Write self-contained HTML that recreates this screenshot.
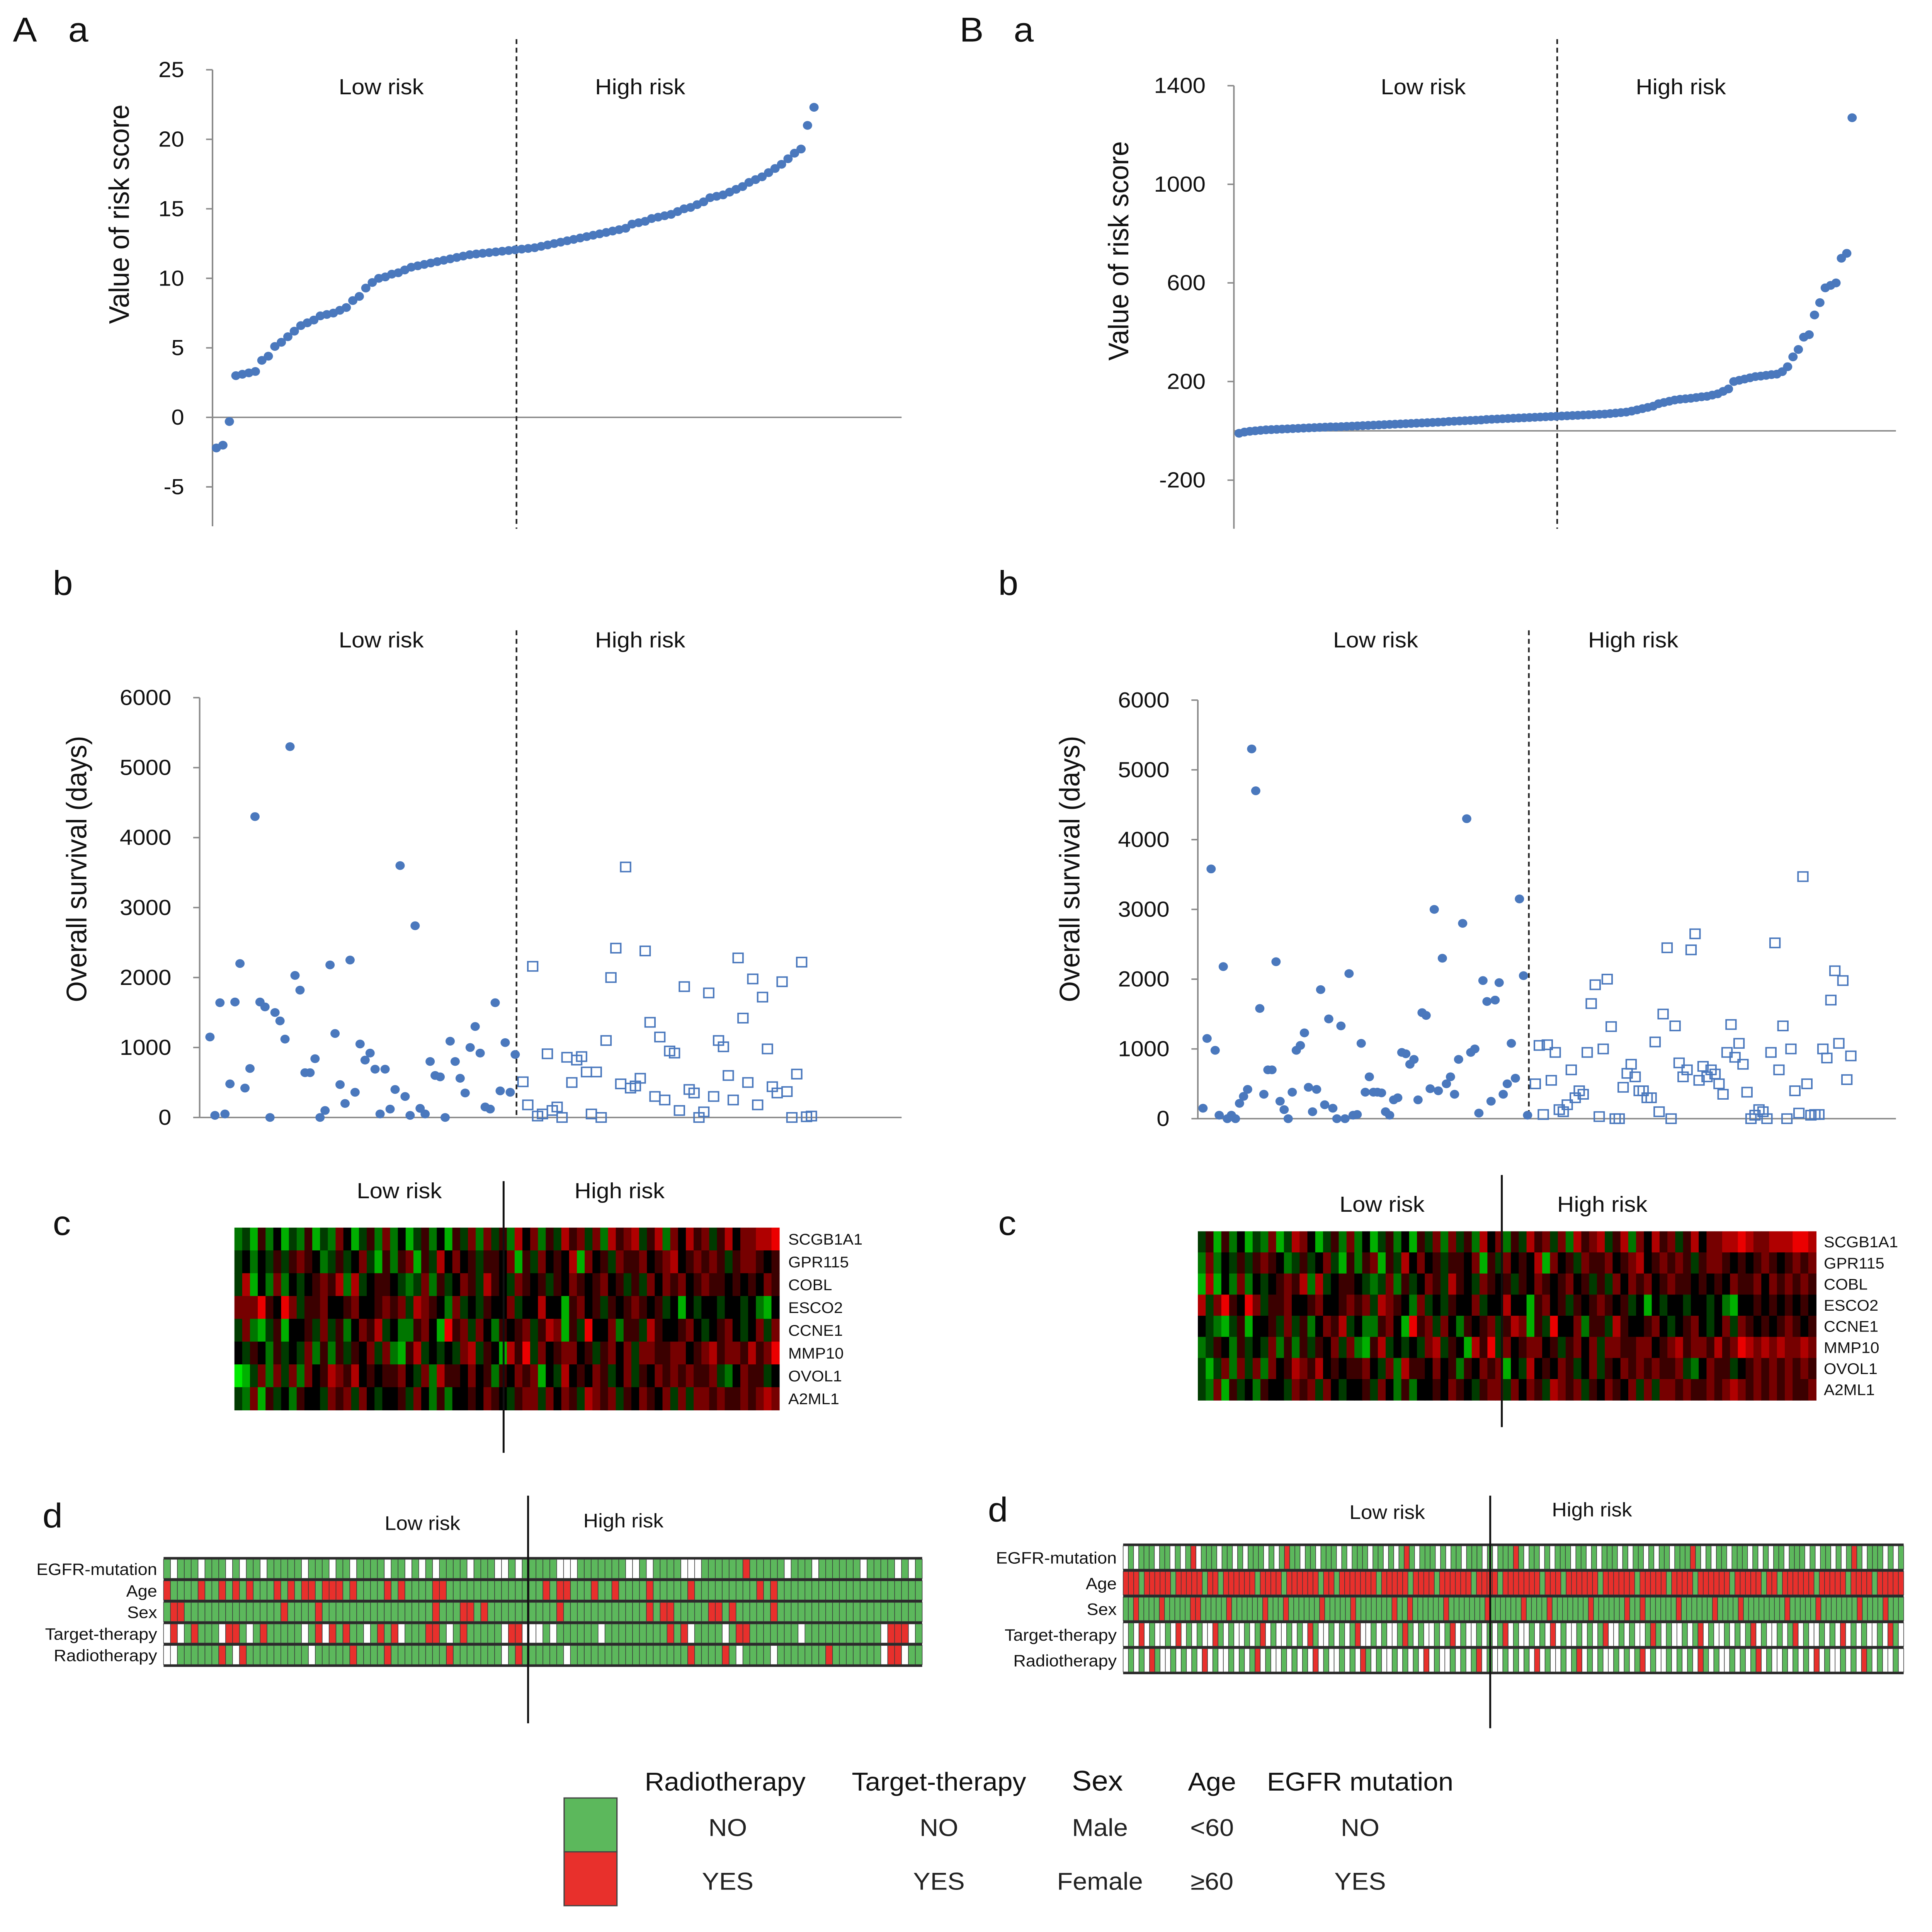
<!DOCTYPE html>
<html><head><meta charset="utf-8">
<style>
html,body{margin:0;padding:0;background:#fff;overflow:hidden;width:100vw;height:100vh;}
svg{display:block;font-family:"Liberation Sans",Arial,sans-serif;width:100vw;height:100vh;}
</style></head>
<body>
<svg id="fig" xmlns="http://www.w3.org/2000/svg" viewBox="0 0 1500 1578.5" preserveAspectRatio="none">
<rect x="0" y="0" width="1500" height="1578.5" fill="#fff"/>
<g font-size="28" fill="#111">
<text x="10" y="34">A</text>
<text x="53" y="34">a</text>
<text x="745" y="34">B</text>
<text x="787" y="34">a</text>
<text x="41" y="486">b</text>
<text x="775" y="486">b</text>
<text x="41" y="1009">c</text>
<text x="775" y="1009">c</text>
<text x="33" y="1248">d</text>
<text x="767" y="1243">d</text>
</g>
<g font-size="18" fill="#111" text-anchor="middle">
<text x="296" y="77">Low risk</text>
<text x="497" y="77">High risk</text>
<text x="1105" y="77">Low risk</text>
<text x="1305" y="77">High risk</text>
<text x="296" y="529">Low risk</text>
<text x="497" y="529">High risk</text>
<text x="1068" y="529">Low risk</text>
<text x="1268" y="529">High risk</text>
<text x="310" y="979">Low risk</text>
<text x="481" y="979">High risk</text>
<text x="1073" y="990">Low risk</text>
<text x="1244" y="990">High risk</text>
<text x="328" y="1250" font-size="16">Low risk</text>
<text x="484" y="1248" font-size="16">High risk</text>
<text x="1077" y="1241" font-size="16">Low risk</text>
<text x="1236" y="1239" font-size="16">High risk</text>
</g>
<g font-size="22" fill="#111" text-anchor="middle">
<text transform="translate(100,175) rotate(-90)">Value of risk score</text>
<text transform="translate(876,205) rotate(-90)">Value of risk score</text>
<text transform="translate(67,710) rotate(-90)">Overall survival  (days)</text>
<text transform="translate(838,710) rotate(-90)">Overall survival  (days)</text>
</g>
<g id="legend">
<rect x="438" y="1469" width="41" height="44" fill="#5cb85c" stroke="#444" stroke-width="1"/>
<rect x="438" y="1513" width="41" height="44" fill="#e8302c" stroke="#444" stroke-width="1"/>
<g font-size="21" fill="#111" text-anchor="middle">
<text x="563" y="1463">Radiotherapy</text>
<text x="729" y="1463">Target-therapy</text>
<text x="852" y="1463" font-size="23">Sex</text>
<text x="941" y="1463">Age</text>
<text x="1056" y="1463">EGFR mutation</text>
</g>
<g font-size="20" fill="#222" text-anchor="middle">
<text x="565" y="1500">NO</text>
<text x="729" y="1500">NO</text>
<text x="854" y="1500">Male</text>
<text x="941" y="1500">&lt;60</text>
<text x="1056" y="1500">NO</text>
<text x="565" y="1544">YES</text>
<text x="729" y="1544">YES</text>
<text x="854" y="1544">Female</text>
<text x="941" y="1544">≥60</text>
<text x="1056" y="1544">YES</text>
</g>
</g>
</svg>
<script>
// ---------- data ----------
const riskA = [-2.2,-2.0,-0.3,3.0,3.1,3.2,3.3,4.1,4.4,5.1,5.4,5.8,6.2,6.6,6.8,7.0,7.3,7.4,7.5,7.7,7.9,8.4,8.7,9.3,9.7,10.0,10.1,10.3,10.4,10.6,10.8,10.9,11.0,11.1,11.2,11.3,11.4,11.5,11.6,11.7,11.75,11.8,11.85,11.9,11.95,12.0,12.05,12.1,12.15,12.2,12.3,12.4,12.5,12.6,12.7,12.8,12.9,13.0,13.1,13.2,13.3,13.4,13.5,13.6,13.9,14.0,14.1,14.3,14.4,14.5,14.6,14.8,15.0,15.1,15.3,15.5,15.8,15.9,16.0,16.2,16.4,16.6,16.9,17.1,17.3,17.6,17.9,18.2,18.6,19.0,19.3,21.0,22.3];
const riskB = [-10,-5,-2,0,2,4,5,6,7,8,9,10,11,12,13,14,15,16,16,17,18,19,20,21,22,23,24,25,26,27,28,29,30,31,32,33,34,35,36,38,39,40,41,42,43,44,46,47,48,49,50,51,52,53,54,55,56,57,58,59,60,61,62,63,64,65,66,67,68,70,72,74,76,80,85,90,95,100,110,115,120,125,128,130,132,135,138,140,145,150,160,170,200,205,210,215,220,222,225,228,230,240,260,300,330,380,390,470,520,580,590,600,700,720,1270];
const survLowA = [1150,30,1640,50,480,1650,2200,420,700,4300,1650,1580,0,1500,1380,1120,5300,2030,1820,640,640,840,0,100,2180,1200,470,200,2250,360,1050,820,920,690,50,690,120,400,3600,300,30,2740,130,50,800,600,580,0,1090,800,560,350,1000,1300,920,150,120,1640,380,1070,360,900];
const survHighA = [510,180,2160,20,50,910,100,150,0,860,500,820,870,650,50,650,0,1100,2000,2420,480,3580,420,450,560,2380,1360,300,1150,250,950,920,100,1870,400,350,0,80,1780,300,1100,1010,600,250,2280,1420,500,1980,180,1720,980,440,350,1940,370,0,620,2220,10,20];
const survLowB = [150,1150,3580,980,50,2180,0,50,0,220,320,420,5300,4700,1580,350,700,700,2250,250,130,0,380,980,1050,1230,450,100,420,1850,200,1430,150,0,1330,0,2080,50,60,1080,380,600,380,380,370,100,50,270,300,950,930,780,850,270,1520,1480,430,3000,400,2300,500,600,350,850,2800,4300,950,1000,80,1980,1680,250,1700,1950,350,500,1080,580,3150,2050,50];
const survHighB = [500,1050,60,1060,550,950,130,100,200,700,300,400,350,950,1650,1920,30,1000,2000,1320,0,0,450,650,780,600,400,400,300,300,1100,100,1500,2450,0,1330,800,600,700,2420,2650,550,750,600,700,640,500,350,950,1350,880,1080,780,380,0,50,130,100,0,950,2520,700,1330,0,1000,400,80,3470,500,50,60,60,1000,870,1700,2120,1080,1980,560,900];
const ticksRiskA = [-5,0,5,10,15,20,25];
const ticksRiskB = [-200,200,600,1000,1400];
const ticksSurv = [0,1000,2000,3000,4000,5000,6000];
const genes = ["SCGB1A1","GPR115","COBL","ESCO2","CCNE1","MMP10","OVOL1","A2ML1"];
// expression levels 0 (green) .. 4 (black) .. 8 (red)
const exprA = [
"2315241325132641352624135241536263527462537563627567357264756357466778",
"3424353565423534631525615374645355461536454716453655645674565653566545",
"3714262434565727345543236253465375436545354654564535364656456554545465",
"6668548635564456445656376542634354463447441564535456545341434434434214",
"3621351445363524657342256418563642545635761538446255375445643456434636",
"4354253436252535463621573434367354175836456645356463665566456756657568",
"0136263626457657454556436275546452546561437454653463546565655632465534",
"3261534254436563643445364252445465435663646537656354654636366565565676"];
const exprB = [
"3515241326137641352624135241536263527462537563627567357264756357466778766777887",
"2624353565423534631525615374645355461536454716453655645674565653566545456545656",
"1714262434565727345543236253465375436545354654564535364656456554545465564656565",
"7368548635564456445656376542634354463447441564535456545341434434434214454545454",
"4321351445363524657342256418563642545635761538446255375445643456434636545456545",
"2354253436252535463621573434367354175836456645356463665566456756657568767676676",
"3136263626457657454556436275546452546561437454653463546565655632465534565656565",
"3261534254436563643445364252445465435663646537656354654636366565565676565656556"];
const clinRows = ["EGFR-mutation","Age","Sex","Target-therapy","Radiotherapy"];
const clinA = [
"gwgggwgggwgwggwgggggwgggwggwggggwggwgwgwggggwgggwwgwgggggwwwgggggggwwgwggggwwwggggggrgggggwgggwggggggwggggwgwg",
"rggggrggrgrgrgggrgrgrrgrrrgrggggrgrggggrrggggggggggggggrgrrgggrggrggggrgggggrgggggggggrgrggggggggggggggggggggg",
"grrggggggggggggggrggggrggggggggggggggggrgggrrgrggggggggggrggggggggggggrgrrgggggrrgrgggggrggggggggggggggggggggg",
"wrwgrgggwrrgwgrgggggwgrwrgrggwgrgrwgggrrgwgrgggggwrrwwwgwggggggwgggggggggrgrwggggwgrrgggggggwgggggggggggwrrrwg",
"wwggggggrgwrgggggggggwgggggrggggrggggggggrgggggggwgrggggggwgggggggggggggggggrggggrgwggggwgggggggrgggggggwrrwgg"];
const clinB = [
"wgwgggwggwgwgrwgggwggwgwgggwgwgrggwggwgggwgwgggwggwgwgrgwgggwgwggwgggwgwgggrgwggwgwgggwggwgwgggwgwggwgwggwgggrgwgwggwgggwgwgwggwgggwgwggwgwgrgwgggwgwg",
"rrrgrrrrrgrrrrrgrrgrrrrrrgrrrrgrrrrrrgrrgrrrrrrrgrrrrrgrrrrgrrrrrrgrrrrgrrrrrrrgrrrgrrrrrrgrrrrrrgrrrrrgrrrrgrrrrrrgrrrrrgrrgrrrrrrgrrrrrgrrrrgrrrrr",
"ggrggggrgggggrrgggggrggggggrgggrggggggrgggggrgggggggrggrggggggrgggggggrggggggrggggrgggggggrggggggrggrggggggrggggggrggggrggggggggrgggggrgggggggrggggrggg",
"wgwrwgwwgwrwgwgwwrgwgwwgwgrwgwwgwgwrgwwgwgwgrwwgwgwwgrgwgwwgwgrwgwwgwgwgrwgwwgwgwrwgwwgwgwgrwwgwgwwgrgwgwwgwgrwgwwgwgwgrwgwwgwgrwgwwgwgwrwgwgwwgwrgw",
"wgwgwrgwwgwgwgwrwgwwgwgwgrwgwwgwgwgwrwgwwgwgwrgwgwwgwgwgwrwgwwgwgwgrwgwwgwgwgwrwgwwgwgrwgwgwwgwgwgrwgwwgwgwgwrgwgwwgwgwgrwgwwgwgwgwrwgwwgwgwrgwgwwgw"];

// ---------- helpers ----------
const NS = "http://www.w3.org/2000/svg";
const svg = document.getElementById("fig");
function mk(tag, attrs, parent){
  const e = document.createElementNS(NS, tag);
  for (const k in attrs) e.setAttribute(k, attrs[k]);
  (parent || svg).appendChild(e);
  return e;
}
function linScale(d0, d1, r0, r1){ return v => r0 + (v - d0) / (d1 - d0) * (r1 - r0); }
const BLUE = "#4a78bd";

function axes(cfg){
  const g = mk("g", {});
  
  
  const yl = mk("line", {x1:cfg.ax, y1:cfg.yTop, x2:cfg.ax, y2:cfg.yBot, stroke:"#8a8a8a", "stroke-width":1.2}, g);
  
  
  const xl = mk("line", {x1:cfg.ax, y1:cfg.xAxisY, x2:cfg.xEnd, y2:cfg.xAxisY, stroke:"#8a8a8a", "stroke-width":1.2}, g);
  
  
  cfg.ticks.forEach(t => {
    const y = cfg.y(t);
    const tk = mk("line", {x1:cfg.ax-5, y1:y, x2:cfg.ax, y2:y, stroke:"#8a8a8a", "stroke-width":1.2}, g);
    
    
    const tx = mk("text", {x:cfg.ax-22, y:y+6, "text-anchor":"end", "font-size":18, fill:"#111"}, g);
    tx.textContent = t;
    
    
  });
  const dl = mk("line", {x1:cfg.divX, y1:cfg.divTop, x2:cfg.divX, y2:cfg.divBot, stroke:"#222", "stroke-width":1.3, "stroke-dasharray":"4,3"}, g);
  
  
}

// ---------- Aa ----------
(function(){
  const y = linScale(0, 25, 341, 57);
  axes({name:"Aa", ax:165, yTop:57, yBot:430, xAxisY:341, xEnd:700, ticks:ticksRiskA, y, divX:401, divTop:32, divBot:432});
  const x = linScale(0, riskA.length-1, 168, 632);
  riskA.forEach((v,i) => {
    const c = mk("circle", {cx:x(i), cy:y(v), r:3.6, fill:BLUE});
    
    
  });
})();
// ---------- Ba ----------
(function(){
  const y = linScale(0, 1400, 352, 70);
  axes({name:"Ba", ax:958, yTop:70, yBot:432, xAxisY:352, xEnd:1472, ticks:ticksRiskB, y, divX:1209, divTop:32, divBot:432});
  const x = linScale(0, riskB.length-1, 962, 1438);
  riskB.forEach((v,i) => {
    const c = mk("circle", {cx:x(i), cy:y(v), r:3.6, fill:BLUE});
    
    
  });
})();
// ---------- survival ----------
function survPanel(name, ax, y0, y6000, xEnd, divX, low, high, lowX0, highX1){
  const y = linScale(0, 6000, y0, y6000);
  axes({name, ax, yTop:y6000, yBot:y0, xAxisY:y0, xEnd, ticks:ticksSurv, y, divX, divTop:515, divBot:y0});
  const xl = linScale(0, low.length-1, lowX0, divX-1);
  low.forEach((v,i) => {
    const c = mk("circle", {cx:xl(i), cy:y(v), r:3.6, fill:BLUE});
    
    
  });
  const xh = linScale(0, high.length-1, divX+5, highX1);
  high.forEach((v,i) => {
    const s = mk("rect", {x:xh(i)-3.8, y:y(v)-3.8, width:7.6, height:7.6, fill:"none", stroke:BLUE, "stroke-width":1.2});
    
    
  });
}
survPanel("Ab", 155, 913, 570, 700, 401, survLowA, survHighA, 163, 630);
survPanel("Bb", 930, 914, 572, 1472, 1187, survLowB, survHighB, 934, 1437);

// ---------- heatmaps ----------
function exprColor(v){
  if (v < 4){ const k = Math.round((4 - v) / 4 * 235); return "rgb(0," + k + ",0)"; }
  if (v > 4){ const k = Math.round((v - 4) / 4 * 235); return "rgb(" + k + ",0,0)"; }
  return "rgb(0,0,0)";
}
function heatmap(name, x0, x1, y0, y1, data, labelX, divX, divTop, divBot){
  const g = mk("g", {});
  
  
  const rh = (y1 - y0) / data.length;
  data.forEach((row, r) => {
    const cw = (x1 - x0) / row.length;
    for (let c = 0; c < row.length; c++){
      const cell = mk("rect", {x:x0 + c*cw, y:y0 + r*rh, width:cw+0.3, height:rh+0.3, fill:exprColor(+row[c])}, g);
      
      
    }
    const t = mk("text", {x:labelX, y:y0 + r*rh + rh/2 + 4.5, "font-size":12.5, fill:"#111"}, g);
    t.textContent = genes[r];
    
    
  });
  const dl = mk("line", {x1:divX, y1:divTop, x2:divX, y2:divBot, stroke:"#111", "stroke-width":1.5}, g);
  
  
}
heatmap("Ac", 182, 605, 1003, 1152, exprA, 612, 391, 965, 1187);
heatmap("Bc", 930, 1410, 1006, 1144, exprB, 1416, 1166, 960, 1166);

// ---------- clinical grids ----------
const clinColor = {g:"#5cb85c", r:"#e8302c", w:"#ffffff"};
function clinPanel(name, x0, x1, y0, y1, data, labelX, divX, divTop, divBot, fs){
  const g = mk("g", {});
  
  
  const rh = (y1 - y0) / data.length;
  data.forEach((row, r) => {
    const cw = (x1 - x0) / row.length;
    for (let c = 0; c < row.length; c++){
      const cell = mk("rect", {x:x0 + c*cw, y:y0 + r*rh + 1, width:cw, height:rh - 2, fill:clinColor[row[c]], stroke:"#3a3a3a", "stroke-width":0.45}, g);
      
      
    }
    const sep = mk("line", {x1:x0, y1:y0 + r*rh, x2:x1, y2:y0 + r*rh, stroke:"#2a2a2a", "stroke-width":1.8}, g);
    
    
    const t = mk("text", {x:labelX, y:y0 + r*rh + rh/2 + 5, "font-size":fs, "text-anchor":"end", fill:"#111"}, g);
    t.textContent = clinRows[r];
    
    
  });
  const bot = mk("line", {x1:x0, y1:y1, x2:x1, y2:y1, stroke:"#2a2a2a", "stroke-width":1.8}, g);
  
  
  const dl = mk("line", {x1:divX, y1:divTop, x2:divX, y2:divBot, stroke:"#111", "stroke-width":1.5}, g);
  
  
}
clinPanel("Ad", 127, 716, 1273, 1361, clinA, 122, 410, 1222, 1408, 13.5);
clinPanel("Bd", 872, 1478, 1262, 1367, clinB, 867, 1157, 1222, 1412, 13.5);

// legend on top
svg.appendChild(document.getElementById("legend"));
</script>
</body></html>
